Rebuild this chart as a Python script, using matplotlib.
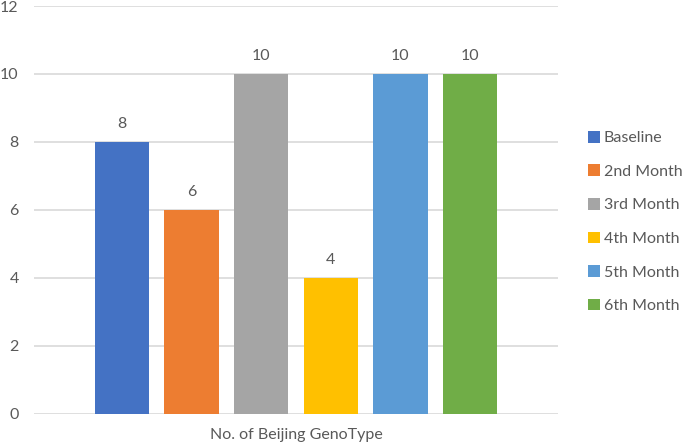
import matplotlib
matplotlib.use('Agg')
import matplotlib.pyplot as plt
from matplotlib.patches import Patch

# values
series = ['Baseline', '2nd Month', '3rd Month', '4th Month', '5th Month', '6th Month']
counts = [8, 6, 10, 4, 10, 10]
colors = ['#4472C4', '#ED7D31', '#A5A5A5', '#FFC000', '#5B9BD5', '#70AD47']
category = 'No. of Beijing GenoType'
yticks = [0, 2, 4, 6, 8, 10, 12]

plt.rcParams['font.family'] = ['Lato', 'DejaVu Sans']
text_col = '#595959'
grid_col = '#D9D9D9'

fig = plt.figure(figsize=(6.85, 4.47), dpi=100)
ax = fig.add_axes([34 / 685, 33.3 / 447, 524 / 685, 407.7 / 447])

pos = list(range(len(series)))
bars = ax.bar(pos, counts, width=0.78, color=colors, zorder=3)

for b, v in zip(bars, counts):
    ax.annotate(str(v), (b.get_x() + b.get_width() / 2, v), xytext=(0, 13),
                textcoords='offset points', ha='center', va='center',
                fontsize=11.5, color=text_col)

ax.set_xlim(-1.264, 6.264)
ax.set_ylim(0, 12)
ax.set_yticks(yticks)
ax.set_xticks([])
ax.yaxis.grid(True, color=grid_col, linewidth=1.2, zorder=0)
ax.tick_params(axis='y', length=0, pad=11, labelsize=11.5, labelcolor=text_col)
for s in ax.spines.values():
    s.set_visible(False)
ax.set_xlabel(category, fontsize=11.5, color=text_col, labelpad=10)

handles = [Patch(facecolor=c, edgecolor='none') for c in colors]
fig.legend(handles, series, loc='center left', bbox_to_anchor=(588 / 685, 1 - 222 / 447),
           frameon=False, fontsize=11.5, labelcolor=text_col, borderpad=0, borderaxespad=0,
           handlelength=0.75, handleheight=0.75, handletextpad=0.25, labelspacing=1.2)

fig.savefig('out.png', dpi=100)
